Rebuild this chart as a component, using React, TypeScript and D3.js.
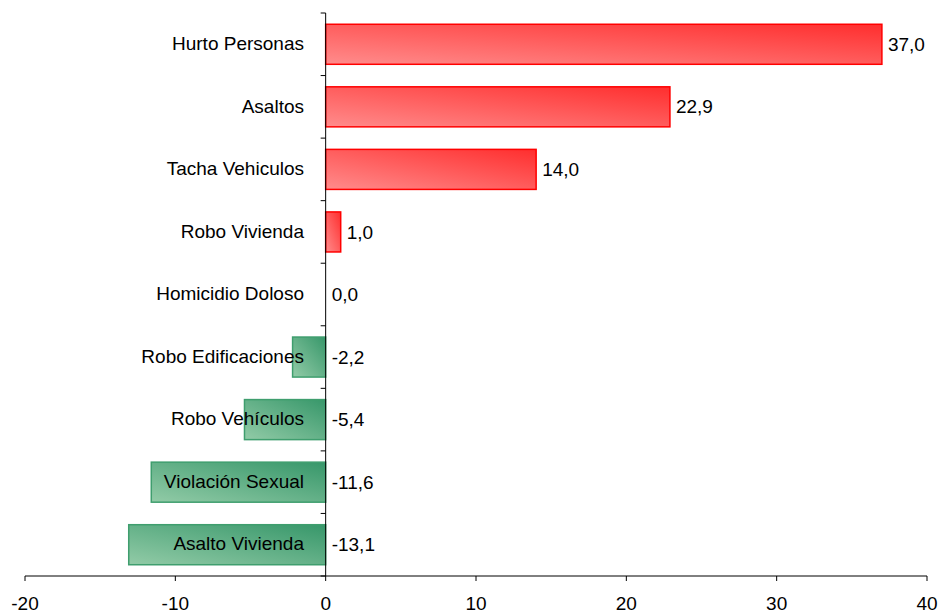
import React from "react";
import * as d3 from "d3";

const categories = [
  "Hurto Personas",
  "Asaltos",
  "Tacha Vehiculos",
  "Robo Vivienda",
  "Homicidio Doloso",
  "Robo Edificaciones",
  "Robo Vehículos",
  "Violación Sexual",
  "Asalto Vivienda",
];
const values = [37.0, 22.9, 14.0, 1.0, 0.0, -2.2, -5.4, -11.6, -13.1];
const xTicks = [-20, -10, 0, 10, 20, 30, 40];

const W = 941;
const H = 614;

export default function App() {
  const x = d3.scaleLinear().domain([-20, 40]).range([25, 927]);
  const y = d3.scaleBand().domain(categories).range([13, 576]).paddingInner(0.36).paddingOuter(0.18);
  const step = y.step();
  const axisY = 576;
  const font = "'Liberation Sans', Arial, sans-serif";
  const fmt = (v: number) => v.toFixed(1).replace(".", ",");

  return (
    <svg width={W} height={H} style={{ position: "absolute", left: 0, top: 0, background: "#fff" }}>
      <defs>
        <linearGradient id="gRed" x1="0" y1="1" x2="1" y2="0">
          <stop offset="0%" stopColor="#ff8c8c" />
          <stop offset="100%" stopColor="#ff2e2e" />
        </linearGradient>
        <linearGradient id="gGreen" x1="0" y1="1" x2="1" y2="0">
          <stop offset="0%" stopColor="#92cba7" />
          <stop offset="100%" stopColor="#37976a" />
        </linearGradient>
      </defs>
      {categories.map((c, i) => {
        const v = values[i];
        if (v === 0) return null;
        const x0 = x(Math.min(0, v));
        const x1 = x(Math.max(0, v));
        const pos = v > 0;
        return (
          <rect
            key={c}
            x={x0}
            y={y(c)!}
            width={x1 - x0}
            height={y.bandwidth()}
            fill={pos ? "url(#gRed)" : "url(#gGreen)"}
            stroke={pos ? "#ff0000" : "#3f9e6e"}
            strokeWidth={1.5}
          />
        );
      })}
      {/* y axis */}
      <line x1={x(0)} x2={x(0)} y1={13} y2={axisY} stroke="#000" strokeWidth={1} />
      {d3.range(categories.length + 1).map((i) => (
        <line key={"yt" + i} x1={x(0) - 5} x2={x(0)} y1={13 + i * step} y2={13 + i * step} stroke="#000" />
      ))}
      {/* x axis */}
      <line x1={x(-20)} x2={x(40)} y1={axisY} y2={axisY} stroke="#000" />
      {xTicks.map((t) => (
        <g key={"xt" + t}>
          <line x1={x(t)} x2={x(t)} y1={axisY} y2={axisY + 5} stroke="#000" />
          <text x={x(t)} y={axisY + 34} textAnchor="middle" fontFamily={font} fontSize={19} fill="#000">
            {t}
          </text>
        </g>
      ))}
      {/* category labels */}
      {categories.map((c) => (
        <text
          key={"cl" + c}
          x={304}
          y={y(c)! + y.bandwidth() / 2}
          dy="0.3em"
          textAnchor="end"
          fontFamily={font}
          fontSize={19}
          fill="#000"
        >
          {c}
        </text>
      ))}
      {/* value labels */}
      {categories.map((c, i) => {
        const v = values[i];
        const lx = v > 0 ? x(v) + 6 : x(0) + 6;
        return (
          <text
            key={"vl" + c}
            x={lx}
            y={y(c)! + y.bandwidth() / 2}
            dy="0.35em"
            textAnchor="start"
            fontFamily={font}
            fontSize={19}
            fill="#000"
          >
            {fmt(v)}
          </text>
        );
      })}
    </svg>
  );
}
